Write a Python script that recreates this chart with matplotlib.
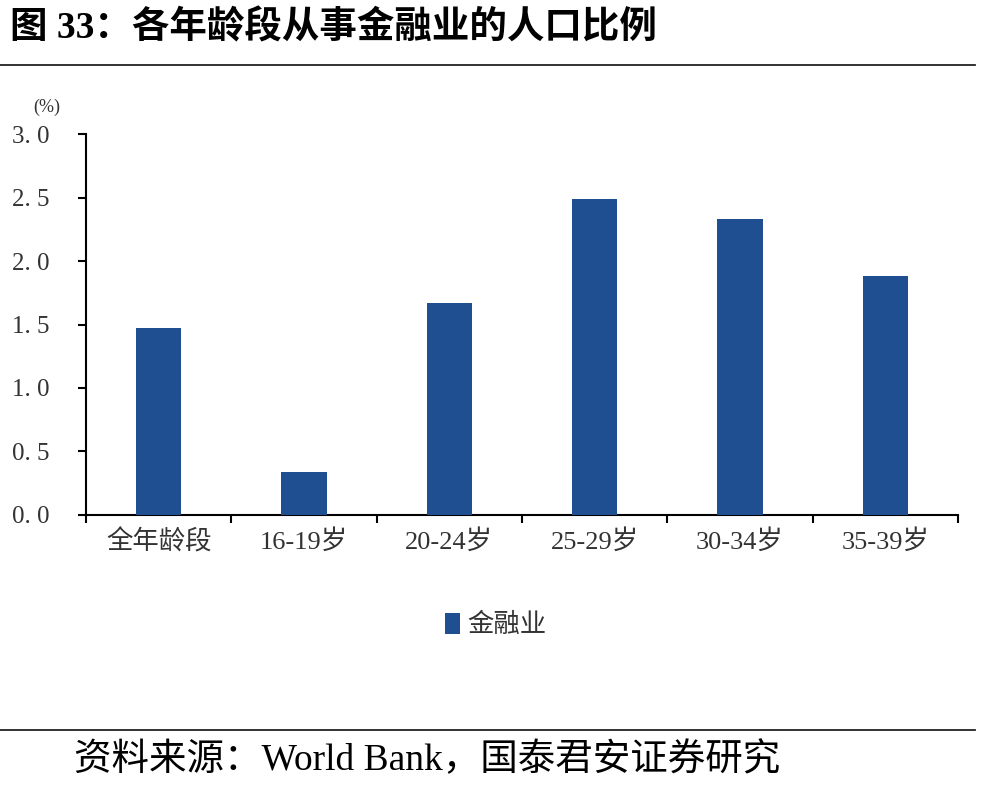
import matplotlib
matplotlib.use('Agg')
import matplotlib.pyplot as plt
from matplotlib.lines import Line2D
from matplotlib.patches import Patch
import numpy as np

# ── 데이터 ──
categories = ['全年龄段', '16-19岁', '20-24岁', '25-29岁', '30-34岁', '35-39岁']
values     = [1.47, 0.34, 1.67, 2.49, 2.33, 1.88]
yticks     = [0.0, 0.5, 1.0, 1.5, 2.0, 2.5, 3.0]
series     = '金融业'

BAR_COLOR = '#1F4E91'
FONT = ['Liberation Serif', 'Noto Sans CJK SC']
plt.rcParams['font.family'] = FONT

fig = plt.figure(figsize=(9.92, 7.86), dpi=100, facecolor='white')
ax = fig.add_axes([0.0867, 0.3448, 0.879, 0.4847])

x = np.arange(len(categories))
ax.bar(x, values, width=0.31, color=BAR_COLOR, zorder=3)

ax.set_xlim(-0.5, len(categories) - 0.5)
ax.set_ylim(0, 3.0)
ax.set_yticks(yticks)
ax.set_yticklabels([f'{v:.1f}'.replace('.', '. ') for v in yticks], fontsize=18, color='#333333')

ax.set_xticks(np.arange(len(categories) + 1) - 0.5)
ax.set_xticklabels([])
ax.tick_params(axis='x', direction='out', length=6, width=1.5)
ax.tick_params(axis='y', direction='out', length=6, width=1.5, pad=20)
for i, c in enumerate(categories):
    ax.text(i, -0.11, c, ha='center', va='top', fontsize=19, color='#333333',
            transform=ax.transData)

for s in ('top', 'right'):
    ax.spines[s].set_visible(False)
for s in ('left', 'bottom'):
    ax.spines[s].set_linewidth(1.5)

ax.text(-0.045, 1.07, '(%)', transform=ax.transAxes, ha='center', va='center',
        fontsize=13, color='#333333')

# legend
fig.legend(handles=[Patch(facecolor=BAR_COLOR, label=series)],
           loc='center', bbox_to_anchor=(0.5, 1 - 625 / 786), frameon=False,
           fontsize=19, handlelength=0.55, handleheight=0.85, handletextpad=0.3,
           labelcolor='#333333')

# title / rules / source
fig.text(0.010, 1 - 28 / 786, '图 33：各年龄段从事金融业的人口比例', fontsize=27,
         fontweight='bold', ha='left', va='center')
fig.add_artist(Line2D([0, 0.983], [1 - 65 / 786] * 2, color='#222222', lw=1.3))
fig.add_artist(Line2D([0, 0.983], [1 - 730 / 786] * 2, color='#222222', lw=1.3))
fig.text(0.075, 1 - 760 / 786, '资料来源：World Bank，国泰君安证券研究', fontsize=27,
         ha='left', va='center')

fig.savefig('out.png', dpi=100, facecolor='white')
